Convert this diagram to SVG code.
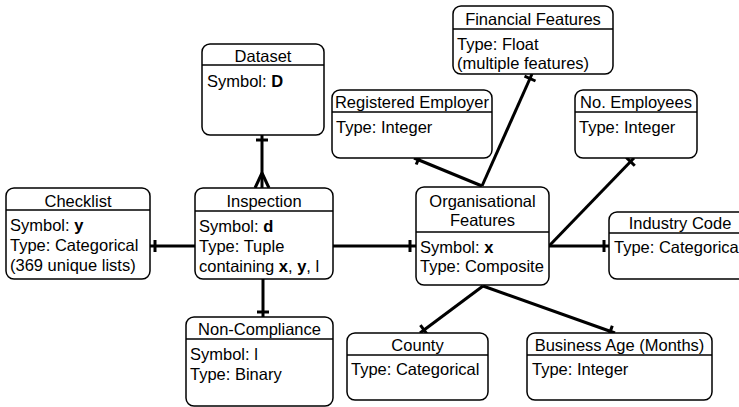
<svg xmlns="http://www.w3.org/2000/svg" width="739" height="407" viewBox="0 0 739 407">
<style>
.box{fill:#fff;stroke:#000;stroke-width:1.5}
.hd{stroke:#000;stroke-width:1.5}
text{font-family:"Liberation Sans",Arial,sans-serif;font-size:16.5px;fill:#000}
.t{text-anchor:middle}
.c{stroke:#000;stroke-width:3;fill:none}
.b{font-weight:bold}
</style>
<rect width="739" height="407" fill="#fff"/>
<g id="connectors">
  <!-- Dataset - Inspection -->
  <path class="c" d="M262,135 V188"/>
  <path class="c" d="M256,140 H268"/>
  <path class="c" d="M262,173 L255,188 M262,173 L269,188"/>
  <!-- Checklist - Inspection -->
  <path class="c" d="M150,246 H195"/>
  <path class="c" d="M155,240 V252"/>
  <!-- Inspection - Non-Compliance -->
  <path class="c" d="M263,279 V317"/>
  <path class="c" d="M257,312 H269"/>
  <!-- Inspection - Org -->
  <path class="c" d="M333,246 H416"/>
  <path class="c" d="M410,240 V252"/>
  <!-- Org - Registered Employer -->
  <path class="c" d="M482,186 L414,158"/>
  <path class="c" d="M421,153.5 L416.2,164.5"/>
  <!-- Org - Financial -->
  <path class="c" d="M482,186 L532,74"/>
  <path class="c" d="M535.5,81 L524.5,76.1"/>
  <!-- Org - No. Employees -->
  <path class="c" d="M549,246 L634,158"/>
  <path class="c" d="M634.8,165.8 L626.2,157.4"/>
  <!-- Org - Industry -->
  <path class="c" d="M549,246 H609"/>
  <path class="c" d="M604,240 V252"/>
  <!-- Org - County -->
  <path class="c" d="M483,286 L420,333"/>
  <path class="c" d="M427.6,334.8 L420.4,325.2"/>
  <!-- Org - Business Age -->
  <path class="c" d="M483,286 L615,333"/>
  <path class="c" d="M608.3,337 L612.3,325.7"/>
</g>
<g id="dataset">
  <rect class="box" x="202" y="44" width="122" height="91" rx="8"/>
  <line class="hd" x1="202" y1="65" x2="324" y2="65"/>
  <text class="t" x="263" y="62">Dataset</text>
  <text x="207" y="87">Symbol: <tspan class="b">D</tspan></text>
</g>
<g id="checklist">
  <rect class="box" x="6" y="188" width="144" height="91" rx="8"/>
  <line class="hd" x1="6" y1="210" x2="150" y2="210"/>
  <text class="t" x="78" y="207">Checklist</text>
  <text x="10" y="231">Symbol: <tspan class="b">y</tspan></text>
  <text x="10" y="251">Type: Categorical</text>
  <text x="10" y="271">(369 unique lists)</text>
</g>
<g id="inspection">
  <rect class="box" x="195" y="188" width="138" height="91" rx="8"/>
  <line class="hd" x1="195" y1="211" x2="333" y2="211"/>
  <text class="t" x="264" y="207">Inspection</text>
  <text x="199" y="232">Symbol: <tspan class="b">d</tspan></text>
  <text x="199" y="252">Type: Tuple</text>
  <text x="199" y="272">containing <tspan class="b">x</tspan>, <tspan class="b">y</tspan>, l</text>
</g>
<g id="noncompliance">
  <rect class="box" x="186" y="317" width="147" height="89" rx="8"/>
  <line class="hd" x1="186" y1="339" x2="333" y2="339"/>
  <text class="t" x="259.5" y="335">Non-Compliance</text>
  <text x="190" y="360">Symbol: l</text>
  <text x="190" y="380">Type: Binary</text>
</g>
<g id="organisational">
  <rect class="box" x="416" y="187" width="133" height="98" rx="8"/>
  <line class="hd" x1="416" y1="232" x2="549" y2="232"/>
  <text class="t" x="482.5" y="207">Organisational</text>
  <text class="t" x="482.5" y="226">Features</text>
  <text x="420" y="253">Symbol: <tspan class="b">x</tspan></text>
  <text x="420" y="272">Type: Composite</text>
</g>
<g id="industrycode">
  <rect class="box" x="609" y="212" width="142" height="67" rx="8"/>
  <line class="hd" x1="609" y1="233" x2="751" y2="233"/>
  <text class="t" x="680" y="229">Industry Code</text>
  <text x="614" y="253">Type: Categorical</text>
</g>
<g id="county">
  <rect class="box" x="347" y="333" width="141" height="67" rx="8"/>
  <line class="hd" x1="347" y1="355" x2="488" y2="355"/>
  <text class="t" x="417.5" y="351">County</text>
  <text x="351" y="375">Type: Categorical</text>
</g>
<g id="businessage">
  <rect class="box" x="527" y="333" width="185" height="67" rx="8"/>
  <line class="hd" x1="527" y1="355" x2="712" y2="355"/>
  <text class="t" x="619.5" y="351">Business Age (Months)</text>
  <text x="532" y="375">Type: Integer</text>
</g>
<g id="financial">
  <rect class="box" x="453" y="6" width="160" height="68" rx="8"/>
  <line class="hd" x1="453" y1="29" x2="613" y2="29"/>
  <text class="t" x="533" y="25">Financial Features</text>
  <text x="457" y="50">Type: Float</text>
  <text x="457" y="69">(multiple features)</text>
</g>
<g id="registeredemployer">
  <rect class="box" x="332" y="90" width="160" height="68" rx="8"/>
  <line class="hd" x1="332" y1="112" x2="492" y2="112"/>
  <text class="t" x="412" y="108">Registered Employer</text>
  <text x="336" y="133">Type: Integer</text>
</g>
<g id="noemployees">
  <rect class="box" x="575" y="90" width="122" height="68" rx="8"/>
  <line class="hd" x1="575" y1="112" x2="697" y2="112"/>
  <text class="t" x="636" y="108">No. Employees</text>
  <text x="579" y="133">Type: Integer</text>
</g>
</svg>
